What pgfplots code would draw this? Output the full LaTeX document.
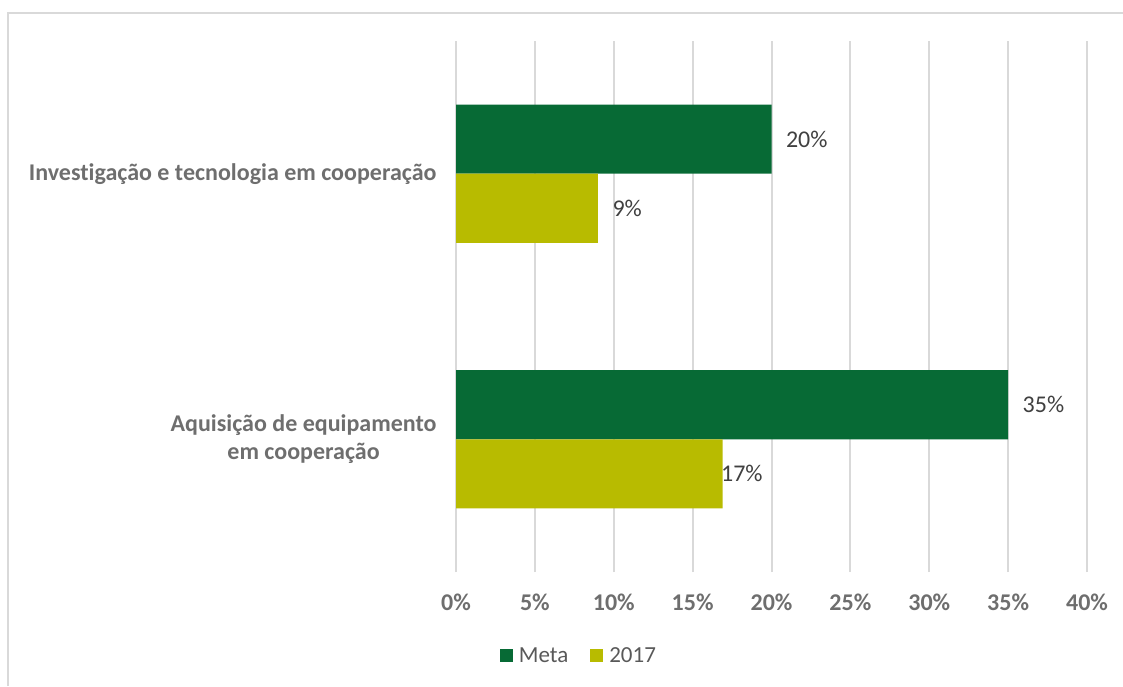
\documentclass[border=0pt]{standalone}
\usepackage{pgfplots}
\pgfplotsset{compat=1.18}
\usepackage{fontspec}
\setmainfont{Carlito}[Ligatures=NoCommon]
\definecolor{meta}{HTML}{076A35}
\definecolor{yr}{HTML}{B8BB00}
\definecolor{txt}{HTML}{595959}
\definecolor{tick}{HTML}{6E6E6E}
\definecolor{dlab}{HTML}{404040}
\definecolor{gridc}{HTML}{D9D9D9}
\begin{document}
\begin{tikzpicture}[x=1pt,y=1pt]
\path[use as bounding box] (0,0) rectangle (1123,686);
\draw[gridc, line width=2pt] (8,0) -- (8,673) -- (1123,673);
\begin{axis}[
  at={(456pt,114pt)}, anchor=south west,
  scale only axis, width=631pt, height=531pt,
  xbar, bar width=0.26,
  xmin=0, xmax=40, ymin=-0.5, ymax=1.5,
  enlargelimits=false,
  axis line style={draw=none},
  major tick length=0pt,
  /pgf/number format/assume math mode=true,
  xtick={0,5,...,40},
  xticklabel={\pgfmathprintnumber{\tick}\%},
  xmajorgrids, grid style={gridc, line width=2pt},
  ytick={0,1},
  yticklabels={Aquisição de equipamento\\em cooperação, Investigação e tecnologia em cooperação},
  xticklabel style={font=\fontsize{24}{28}\selectfont\bfseries, text=tick, yshift=-18pt},
  yticklabel style={font=\fontsize{24}{28}\selectfont\bfseries, text=tick, align=center, xshift=-16pt},
  point meta=explicit symbolic,
  nodes near coords,
  nodes near coords style={font=\fontsize{24}{28}\selectfont, text=dlab, anchor=west, xshift=11pt},
  legend style={at={(0.198,-0.158)}, anchor=center, draw=none, fill=none,
    legend columns=2, font=\fontsize{23}{27}\selectfont, text=txt,
    /tikz/every even column/.append style={column sep=16pt}},
  legend image code/.code={\fill[#1] (0pt,-6.5pt) rectangle (13pt,6.5pt);},
  legend style={nodes={inner xsep=6pt}},
]
\addplot[fill=meta, draw=none, bar shift=0.13] coordinates {(35,0) [35\%] (20,1) [20\%]};
\addplot[fill=yr, draw=none, bar shift=-0.13] coordinates {(16.9,0) [\hspace*{-16pt}17\%] (9,1) [9\%]};
\legend{Meta, 2017}
\end{axis}
\end{tikzpicture}
\end{document}
